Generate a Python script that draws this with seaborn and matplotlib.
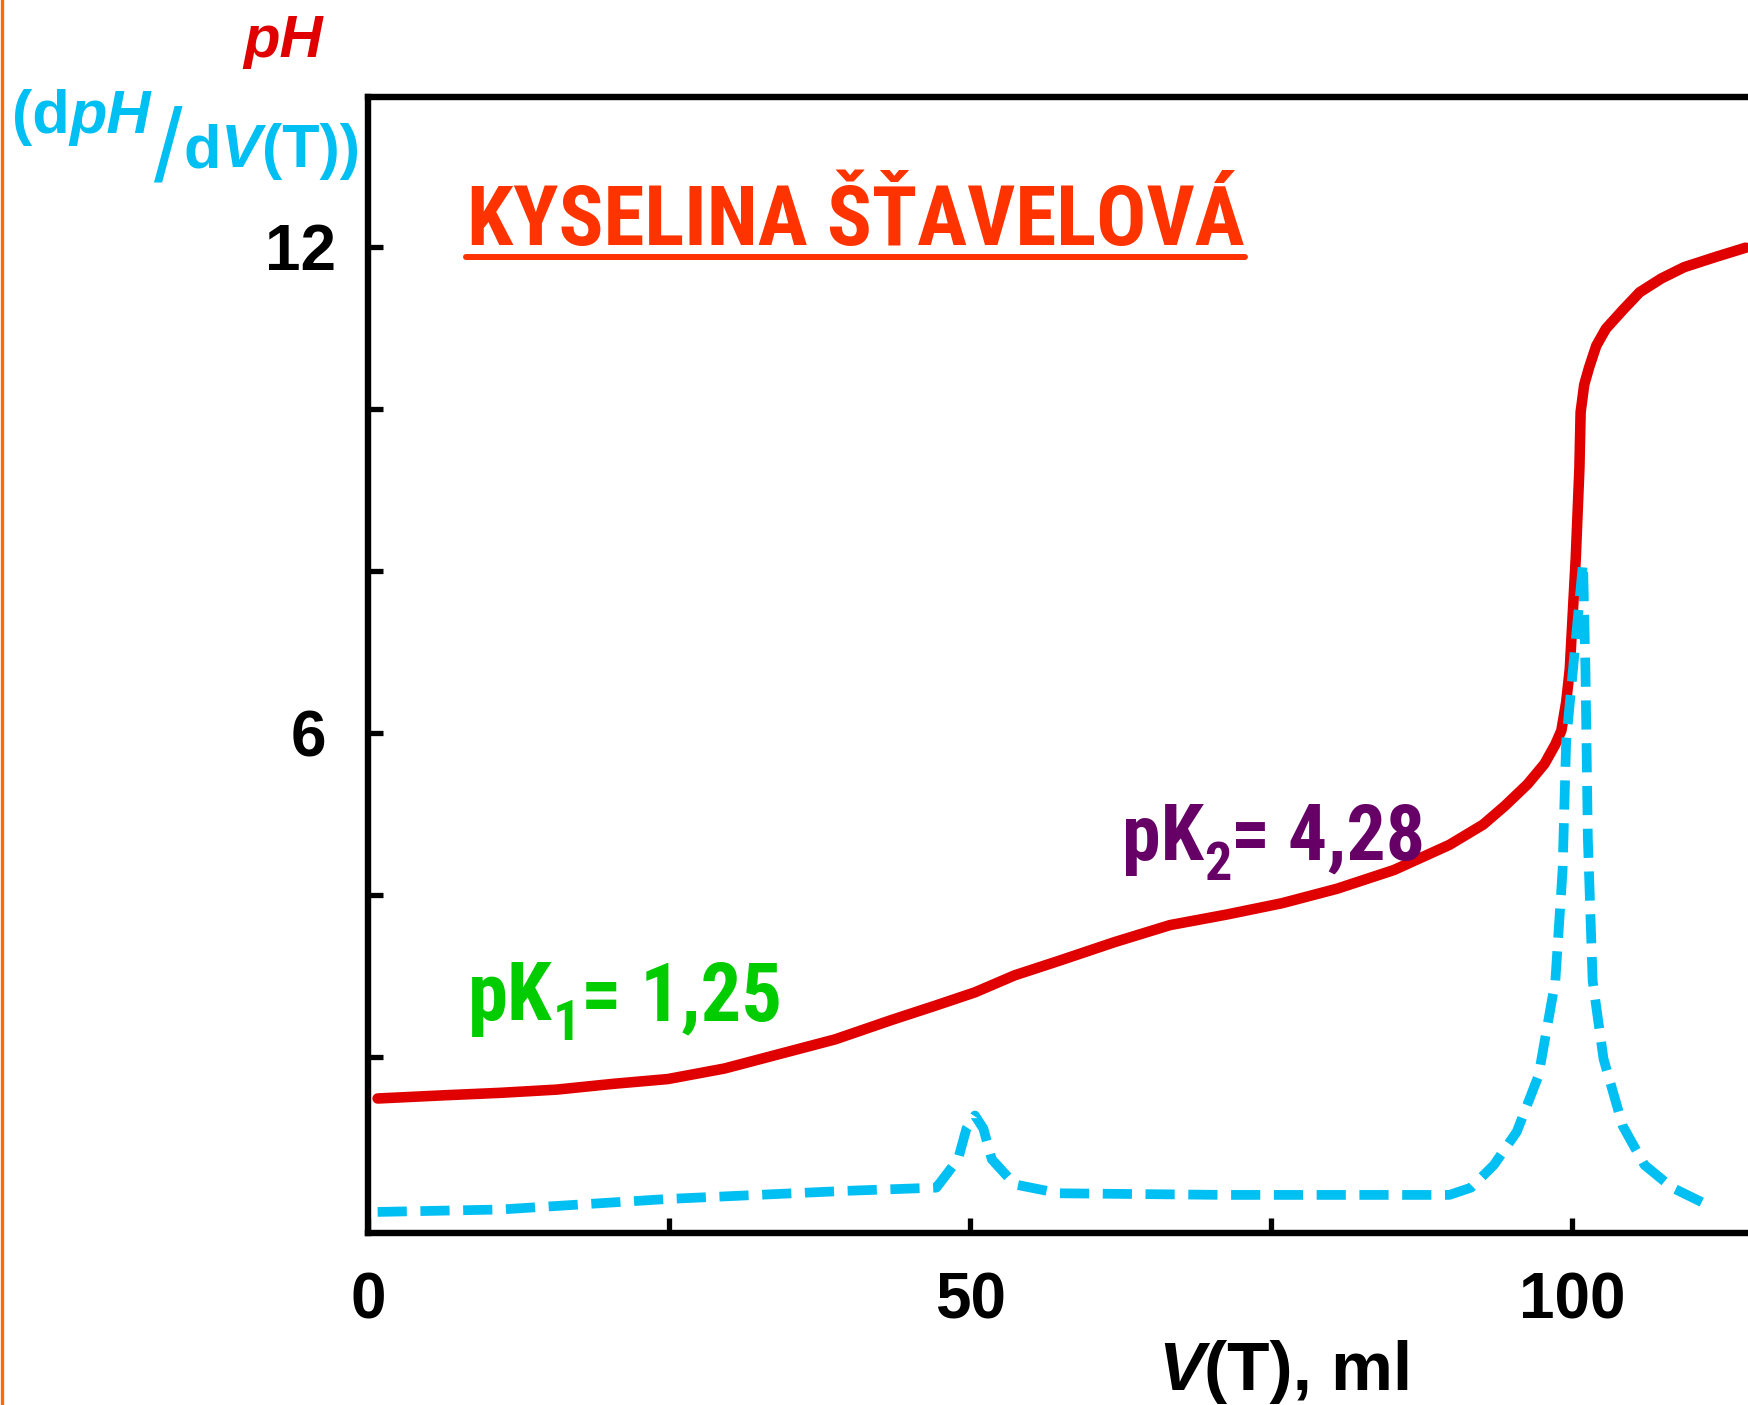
import matplotlib
matplotlib.use("Agg")
import pandas as pd
import matplotlib.pyplot as plt
import seaborn as sns
from matplotlib import font_manager as fm
from matplotlib.lines import Line2D

# =========================
# DATA
# =========================
v_ph = [0.8, 6.4, 11.0, 15.7, 20.3, 24.9, 29.6, 34.2, 38.8, 43.5, 47.2, 50.4,
        53.7, 57.4, 62.0, 66.6, 71.3, 75.9, 80.5, 85.2, 89.8, 92.6, 94.4, 96.3,
        97.7, 98.6, 99.1, 99.5, 99.8, 100.0, 100.3, 100.6, 100.7, 101.0, 101.4,
        102.0, 102.8, 104.2, 105.6, 107.4, 109.3, 112.0, 114.4]
ph = [1.49, 1.53, 1.56, 1.60, 1.67, 1.73, 1.86, 2.04, 2.22, 2.46, 2.64, 2.80,
      3.01, 3.19, 3.42, 3.63, 3.76, 3.90, 4.08, 4.31, 4.62, 4.87, 5.10, 5.37,
      5.62, 5.86, 6.03, 6.38, 6.79, 7.34, 8.17, 9.27, 9.96, 10.30, 10.51,
      10.78, 10.99, 11.22, 11.44, 11.61, 11.75, 11.88, 11.99]

v_der = [0.8, 11.0, 24.9, 39.7, 47.2, 49.0, 49.7, 50.4, 51.1, 51.8, 53.7, 57.4,
         71.3, 89.8, 91.6, 93.5, 95.4, 97.2, 98.6, 99.2, 99.5, 100.9, 101.1,
         101.3, 101.7, 102.6, 104.2, 106.0, 108.3, 111.6]
dph_dv = [0.09, 0.12, 0.25, 0.35, 0.39, 0.74, 1.12, 1.28, 1.12, 0.74, 0.43, 0.32,
          0.30, 0.30, 0.39, 0.67, 1.08, 1.77, 2.94, 4.30, 5.90, 8.10, 6.80,
          4.70, 2.94, 1.98, 1.15, 0.67, 0.39, 0.15]

x_ticks = [0, 25, 50, 75, 100]
x_labels = ["0", "", "50", "", "100"]
y_ticks = [2, 4, 6, 8, 10, 12]
y_labels = ["", "", "6", "", "", "12"]

df_ph = pd.DataFrame({"V": v_ph, "pH": ph})
df_der = pd.DataFrame({"V": v_der, "d": dph_dv})

RED = "#E00000"
CYAN = "#00BFF2"
TITLE = "#FF3300"
GREEN = "#00CC00"
PURPLE = "#660066"

sns.set_theme(style="white")
plt.rcParams["font.family"] = ["Liberation Sans", "DejaVu Sans"]


def has_font(name):
    try:
        fm.findfont(fm.FontProperties(family=name, weight="bold"),
                    fallback_to_default=False)
        return True
    except Exception:
        return False


narrow = next((f for f in ["Liberation Sans Narrow", "Arial Narrow",
                           "Roboto Condensed", "Open Sans Condensed"]
               if has_font(f)), None)

W, H = 1748, 1405
fig = plt.figure(figsize=(W / 100, H / 100), dpi=100)
ax = fig.add_axes([368 / W, 1 - 1233 / H, (W - 368) / W, (1233 - 97) / H])

sns.lineplot(data=df_ph, x="V", y="pH", ax=ax, color=RED, linewidth=7.6)
sns.lineplot(data=df_der, x="V", y="d", ax=ax, color=CYAN, linewidth=7)
ax.lines[-1].set_dashes([3.0, 1.4])

ax.set_xlim(0, 114.6)
ax.set_ylim(-0.17, 13.85)
ax.set_xlabel("")
ax.set_ylabel("")
ax.set_xticks(x_ticks)
ax.set_xticklabels(x_labels)
ax.set_yticks(y_ticks)
ax.set_yticklabels(y_labels)
ax.tick_params(direction="in", length=11, width=3.8, color="black",
               labelsize=46, labelcolor="black", bottom=True, left=True)
for lab in ax.get_xticklabels() + ax.get_yticklabels():
    lab.set_fontweight("bold")
ax.tick_params(axis="x", pad=28)
yt = ax.yaxis.get_major_ticks()
yt[2].set_pad(30)
yt[5].set_pad(23)
for s in ["left", "bottom", "top"]:
    ax.spines[s].set_visible(True)
    ax.spines[s].set_color("black")
    ax.spines[s].set_linewidth(4.6)
ax.spines["right"].set_visible(False)
ax.grid(False)

renderer = fig.canvas.get_renderer()


def run(x, y, parts, scale=1.0):
    """Place text pieces one after another; x, y in pixels from top-left, y = baseline."""
    made = []
    for txt, size, dy, kw in parts:
        t = fig.text(x / W, 1 - (y + dy * scale) / H, txt, fontsize=size * scale,
                     ha="left", va="baseline", **kw)
        x += t.get_window_extent(renderer).width
        made.append(t)
    return made, x


def fitted_run(x, y, parts, width):
    made, end = run(x, y, parts)
    if narrow is None:
        for t in made:
            t.remove()
        made, end = run(x, y, parts, scale=width / (end - x))
    return made, end


nfam = [narrow] if narrow else ["Liberation Sans", "DejaVu Sans"]

# title with underline
tkw = dict(color=TITLE, fontweight="bold", family=nfam)
_, tend = fitted_run(467, 245, [("KYSELINA ŠŤAVELOVÁ", 60, 0, tkw)], 774)
fig.add_artist(Line2D([466 / W, tend / W], [1 - 257 / H] * 2,
                      color=TITLE, linewidth=4.3))

# pK annotations
gkw = dict(color=GREEN, fontweight="bold", family=nfam)
fitted_run(468, 1020, [("pK", 58, 0, gkw), ("1", 40, 20, gkw),
                       ("= 1,25", 58, 0, gkw)], 299)
pkw = dict(color=PURPLE, fontweight="bold", family=nfam)
fitted_run(1122, 860, [("pK", 56, 0, pkw), ("2", 39, 20, pkw),
                       ("= 4,28", 56, 0, pkw)], 296)

# axis titles
run(243, 57, [("pH", 43, 0, dict(color=RED, fontweight="bold", fontstyle="italic"))])
ckw = dict(color=CYAN, fontweight="bold")
cit = dict(color=CYAN, fontweight="bold", fontstyle="italic")
_, e1 = run(12, 133, [("(d", 44, 0, ckw), ("pH", 44, 0, cit)])
_, e2 = run(e1 + 3, 180, [("/", 74, 0, dict(color=CYAN))])
run(e2 + 1, 167, [("d", 44, 0, ckw), ("V", 44, 0, cit), ("(T))", 44, 0, ckw)])
run(1158, 1390, [("V", 50, 0, dict(color="black", fontweight="bold", fontstyle="italic")),
                 ("(T), ml", 50, 0, dict(color="black", fontweight="bold"))])

# orange edge line on the left
fig.add_artist(Line2D([1.5 / W, 1.5 / W], [0, 1], color="#FF6A00", linewidth=2.4))

fig.savefig("out.png", dpi=100)
